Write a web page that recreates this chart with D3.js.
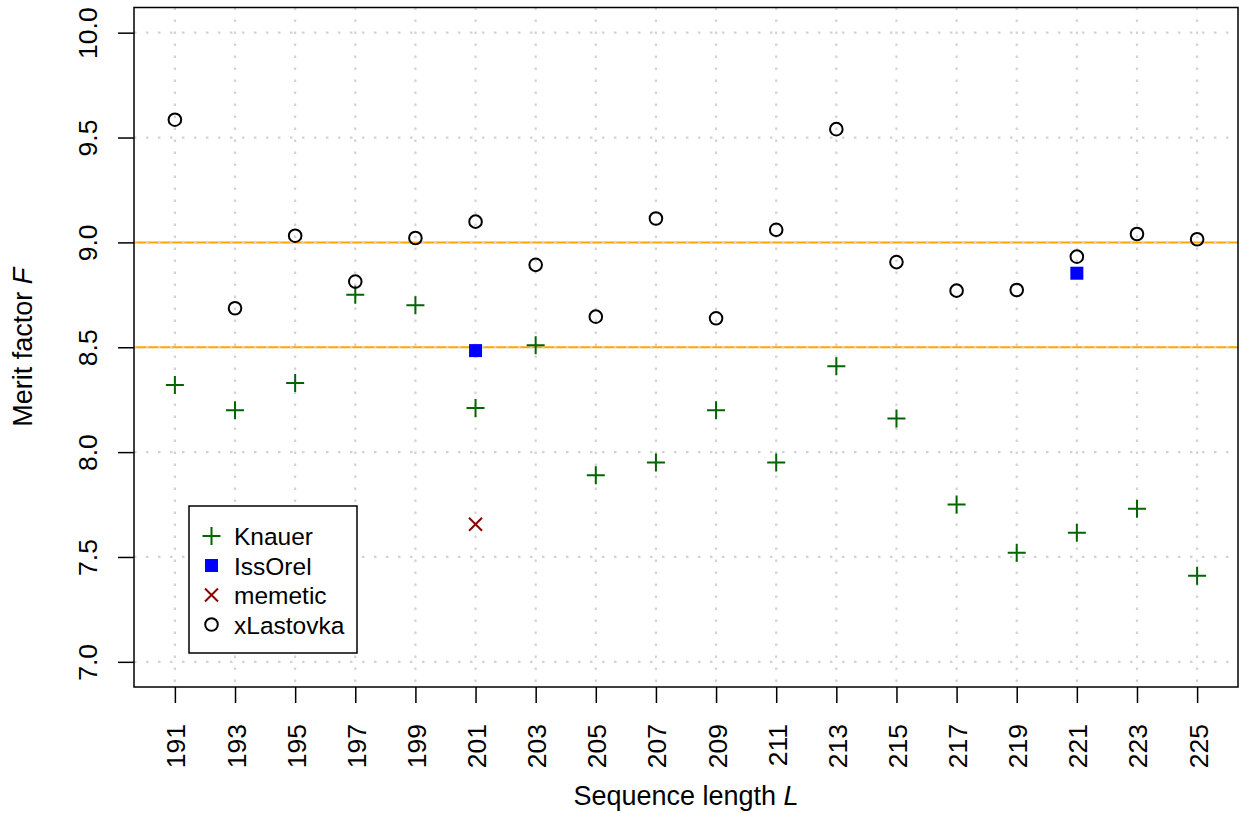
<!DOCTYPE html>
<html>
<head>
<meta charset="utf-8">
<script src="https://cdn.jsdelivr.net/npm/d3@7"></script>
<style>
  body { margin: 0; background: white; }
  text { font-family: "Liberation Sans", Arial, sans-serif; }
</style>
</head>
<body>
<div id="chart-area"></div>
<script>
var lengths = [191, 193, 195, 197, 199, 201, 203, 205, 207, 209, 211, 213, 215, 217, 219, 221, 223, 225];
var knauer = [8.32, 8.20, 8.33, 8.75, 8.70, 8.21, 8.51, 7.89, 7.95, 8.20, 7.95, 8.41, 8.16, 7.75, 7.52, 7.615, 7.73, 7.41];
var xLastovka = [9.585, 8.686, 9.032, 8.813, 9.021, 9.099, 8.893, 8.646, 9.114, 8.638, 9.06, 9.54, 8.906, 8.77, 8.773, 8.932, 9.04, 9.015];
var issOrelL = [201, 221];
var issOrelF = [8.484, 8.853];
var memeticL = [201];
var memeticF = [7.656];
var refLines = [8.5, 9.0];
var yTicks = [7.0, 7.5, 8.0, 8.5, 9.0, 9.5, 10.0];
var legendNames = ["Knauer", "IssOrel", "memetic", "xLastovka"];

var margin = { top: 7.5, right: 3, bottom: 126, left: 134 };
var width = 1241 - margin.left - margin.right;
var height = 813 - margin.top - margin.bottom;

var svg = d3.select("#chart-area")
  .append("svg")
  .attr("width", 1241)
  .attr("height", 813);

var g = svg.append("g")
  .attr("transform", "translate(" + margin.left + "," + margin.top + ")");

// R style 4% padding
var x = d3.scaleLinear()
  .domain([191 - 34 * 0.04, 225 + 34 * 0.04])
  .range([0, width]);

var y = d3.scaleLinear()
  .domain([7 - 3 * 0.04, 10 + 3 * 0.04])
  .range([height, 0]);

// reference lines
g.selectAll(".ref")
  .data(refLines)
  .enter().append("line")
  .attr("class", "ref")
  .attr("x1", 0)
  .attr("x2", width)
  .attr("y1", d => y(d))
  .attr("y2", d => y(d))
  .attr("stroke", "orange")
  .attr("stroke-width", 2);

// grid
g.selectAll(".vgrid")
  .data(lengths)
  .enter().append("line")
  .attr("class", "vgrid")
  .attr("x1", d => x(d))
  .attr("x2", d => x(d))
  .attr("y1", 0)
  .attr("y2", height)
  .attr("stroke", "#d3d3d3")
  .attr("stroke-width", 2.2)
  .attr("stroke-dasharray", "2.5,9.5");

g.selectAll(".hgrid")
  .data(yTicks)
  .enter().append("line")
  .attr("class", "hgrid")
  .attr("x1", 0)
  .attr("x2", width)
  .attr("y1", d => y(d))
  .attr("y2", d => y(d))
  .attr("stroke", "#d3d3d3")
  .attr("stroke-width", 2.2)
  .attr("stroke-dasharray", "2.5,9.5");

// axes
var xAxisCall = d3.axisBottom(x)
  .tickValues(lengths)
  .tickSize(16)
  .tickFormat(d3.format("d"));
var xAxisGroup = g.append("g")
  .attr("transform", "translate(0," + height + ")")
  .call(xAxisCall);
xAxisGroup.select(".domain").remove();
xAxisGroup.selectAll(".tick line").attr("stroke", "black").attr("stroke-width", 1.5);
xAxisGroup.selectAll("text")
  .attr("font-size", "26.5px")
  .attr("fill", "black")
  .attr("text-anchor", "end")
  .attr("dy", null)
  .attr("y", 0)
  .attr("x", 0)
  .attr("transform", "translate(10,37) rotate(-90)");

var yAxisCall = d3.axisLeft(y)
  .tickValues(yTicks)
  .tickSize(16)
  .tickFormat(d3.format(".1f"));
var yAxisGroup = g.append("g")
  .call(yAxisCall);
yAxisGroup.select(".domain").remove();
yAxisGroup.selectAll(".tick line").attr("stroke", "black").attr("stroke-width", 1.5);
yAxisGroup.selectAll("text")
  .attr("font-size", "26.5px")
  .attr("fill", "black")
  .attr("text-anchor", "middle")
  .attr("dy", null)
  .attr("x", 0)
  .attr("y", 0)
  .attr("transform", "translate(-37,0) rotate(-90)");

// frame
g.append("rect")
  .attr("width", width)
  .attr("height", height)
  .attr("fill", "none")
  .attr("stroke", "black")
  .attr("stroke-width", 1.5);

// axis titles
var xTitle = g.append("text")
  .attr("x", width / 2)
  .attr("y", height + 118)
  .attr("font-size", "27px")
  .attr("text-anchor", "middle");
xTitle.append("tspan").text("Sequence length ");
xTitle.append("tspan").attr("font-style", "italic").text("L");

var yTitle = g.append("text")
  .attr("transform", "translate(-102," + (height / 2) + ") rotate(-90)")
  .attr("font-size", "27px")
  .attr("text-anchor", "middle");
yTitle.append("tspan").text("Merit factor ");
yTitle.append("tspan").attr("font-style", "italic").text("F");

// symbol helpers
function plus(sel, color) {
  sel.append("path")
    .attr("d", "M-9,0H9M0,-9V9")
    .attr("stroke", color)
    .attr("stroke-width", 2)
    .attr("fill", "none");
}
function cross(sel, color) {
  sel.append("path")
    .attr("d", "M-6.5,-6.5L6.5,6.5M-6.5,6.5L6.5,-6.5")
    .attr("stroke", color)
    .attr("stroke-width", 2)
    .attr("fill", "none");
}
function square(sel, color) {
  sel.append("rect")
    .attr("x", -6.5)
    .attr("y", -6.5)
    .attr("width", 13)
    .attr("height", 13)
    .attr("fill", color);
}
function circle(sel, color) {
  sel.append("circle")
    .attr("r", 6.3)
    .attr("fill", "none")
    .attr("stroke", color)
    .attr("stroke-width", 2);
}

var green = "#006400";
var red = "#8b0000";

g.selectAll(".knauer")
  .data(lengths)
  .enter().append("g")
  .attr("class", "knauer")
  .attr("transform", (d, i) => "translate(" + x(d) + "," + y(knauer[i]) + ")")
  .call(plus, green);

g.selectAll(".lastovka")
  .data(lengths)
  .enter().append("g")
  .attr("class", "lastovka")
  .attr("transform", (d, i) => "translate(" + x(d) + "," + y(xLastovka[i]) + ")")
  .call(circle, "black");

g.selectAll(".issorel")
  .data(issOrelL)
  .enter().append("g")
  .attr("class", "issorel")
  .attr("transform", (d, i) => "translate(" + x(d) + "," + y(issOrelF[i]) + ")")
  .call(square, "blue");

g.selectAll(".memetic")
  .data(memeticL)
  .enter().append("g")
  .attr("class", "memetic")
  .attr("transform", (d, i) => "translate(" + x(d) + "," + y(memeticF[i]) + ")")
  .call(cross, red);

// legend
var legend = svg.append("g")
  .attr("transform", "translate(189,506)");

legend.append("rect")
  .attr("width", 168)
  .attr("height", 147)
  .attr("fill", "white")
  .attr("stroke", "black")
  .attr("stroke-width", 1.5);

var drawers = [
  s => plus(s, green),
  s => square(s, "blue"),
  s => cross(s, red),
  s => circle(s, "black")
];

legendNames.forEach((name, i) => {
  var row = legend.append("g")
    .attr("transform", "translate(0," + (30 + i * 29.5) + ")");
  row.append("g")
    .attr("transform", "translate(22.5,0)")
    .call(drawers[i]);
  row.append("text")
    .attr("x", 45)
    .attr("y", 9)
    .attr("font-size", "24.5px")
    .text(name);
});
</script>
</body>
</html>
